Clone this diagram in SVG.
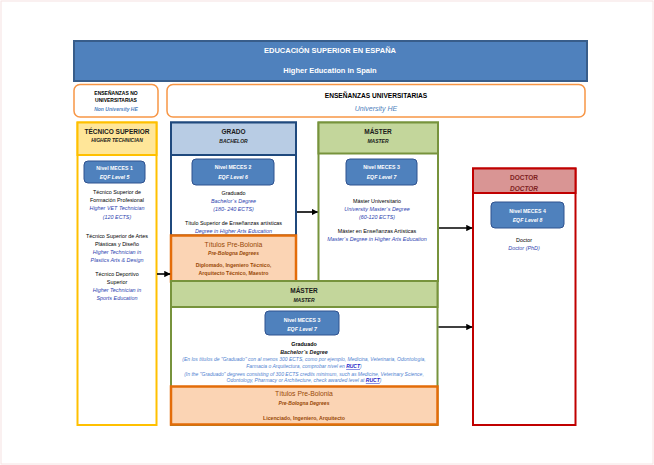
<svg xmlns="http://www.w3.org/2000/svg" width="654" height="465" viewBox="0 0 654 465">
<defs>
<marker id="ah" viewBox="0 0 10 10" refX="9" refY="5" markerWidth="4" markerHeight="4" orient="auto" markerUnits="strokeWidth">
<path d="M0,0 L10,5 L0,10 z" fill="#000"/>
</marker>
<style>
text{font-family:"Liberation Sans",Arial,sans-serif;text-anchor:middle;}
.t{fill:#ffffff;font-weight:bold;font-size:7.5px;}
.hd{font-weight:bold;font-size:6.5px;fill:#1a1a1a;}
.hi{font-weight:bold;font-style:italic;font-size:5px;fill:#1a1a1a;}
.b{font-size:5.4px;fill:#000;}
.bl{font-size:5.4px;font-style:italic;fill:#2E3FB0;}
.lb{font-size:5px;font-style:italic;fill:#4F7FD0;}
.u{fill:#1a22c8;text-decoration:underline;font-weight:bold;}
.mc{fill:#4F81BD;stroke:#2F528F;stroke-width:1;}
.mt{fill:#fff;font-weight:bold;font-size:5.2px;}
.mi{fill:#fff;font-weight:bold;font-style:italic;font-size:5.2px;}
.pb{fill:#FBD4B4;stroke:#E36C09;stroke-width:2.5;}
.pt{fill:#984806;font-size:6.8px;}
.pi{fill:#984806;font-size:5px;font-weight:bold;font-style:italic;}
.pd{fill:#984806;font-size:5.2px;font-weight:bold;}
.conn{stroke:#000;stroke-width:1.6;fill:none;marker-end:url(#ah);}
</style>
</defs>
<rect x="1" y="1" width="652" height="463" fill="#fff" stroke="#F6E2E2" stroke-width="1"/>

<g id="title">
<rect x="74" y="41" width="513" height="40" fill="#4F81BD" stroke="#385D8A" stroke-width="2"/>
<text class="t" x="330" y="52.5">EDUCACIÓN SUPERIOR EN ESPAÑA</text>
<text class="t" x="330" y="72.5">Higher Education in Spain</text>
</g>

<g id="non-university">
<rect x="74" y="84.5" width="84" height="32.5" rx="6" fill="#fff" stroke="#F79646" stroke-width="1.5"/>
<text x="116" y="95" style="font-size:5px;font-weight:bold;fill:#000">ENSEÑANZAS NO</text>
<text x="116" y="102" style="font-size:5px;font-weight:bold;fill:#000">UNIVERSITARIAS</text>
<text x="116" y="110.5" style="font-size:5px;font-weight:bold;font-style:italic;fill:#4F81BD">Non University HE</text>
</g>

<g id="university">
<rect x="167" y="84.5" width="418" height="32.5" rx="6" fill="#fff" stroke="#F79646" stroke-width="1.5"/>
<text x="376" y="97.5" style="font-size:6.6px;font-weight:bold;fill:#000">ENSEÑANZAS UNIVERSITARIAS</text>
<text x="376" y="111" style="font-size:7px;font-style:italic;fill:#4F81BD">University HE</text>
</g>

<g id="tecnico">
<rect x="77.5" y="122.5" width="79" height="302.5" fill="#fff" stroke="#FFC000" stroke-width="2"/>
<rect x="77.5" y="122.5" width="79" height="32.5" fill="#FFE699" stroke="#FFC000" stroke-width="2"/>
<text class="hd" x="117" y="133.5">TÉCNICO SUPERIOR</text>
<text class="hi" x="117" y="142">HIGHER TECHNICIAN</text>
<rect class="mc" x="84" y="161" width="61" height="22" rx="4"/>
<text class="mt" x="114.5" y="170">Nivel MECES 1</text>
<text class="mi" x="114.5" y="178.5">EQF Level 5</text>
<text class="b" x="117" y="194">Técnico Superior de</text>
<text class="b" x="117" y="202">Formación Profesional</text>
<text class="bl" x="117" y="210">Higher VET Technician</text>
<text class="bl" x="117" y="219">(120 ECTS)</text>
<text class="b" x="117" y="238">Técnico Superior de Artes</text>
<text class="b" x="117" y="246">Plásticas y Diseño</text>
<text class="bl" x="117" y="254">Higher Technician in</text>
<text class="bl" x="117" y="262">Plastics Arts &amp; Design</text>
<text class="b" x="117" y="276">Técnico Deportivo</text>
<text class="b" x="117" y="284">Superior</text>
<text class="bl" x="117" y="292">Higher Technician in</text>
<text class="bl" x="117" y="300">Sports Education</text>
</g>

<g id="grado">
<rect x="171" y="122.5" width="125" height="113" fill="#fff" stroke="#1F497D" stroke-width="2"/>
<rect x="171" y="122.5" width="125" height="32.5" fill="#B8CCE4" stroke="#1F497D" stroke-width="2"/>
<text class="hd" x="233.5" y="133.5">GRADO</text>
<text class="hi" x="233.5" y="143">BACHELOR</text>
<rect class="mc" x="192" y="159" width="82" height="26" rx="4"/>
<text class="mt" x="233" y="169">Nivel MECES 2</text>
<text class="mi" x="233" y="179">EQF Level 6</text>
<text class="b" x="233.5" y="195">Graduado</text>
<text class="bl" x="233.5" y="203">Bachelor´s Degree</text>
<text class="bl" x="233.5" y="211">(180- 240 ECTS)</text>
<text class="b" x="233.5" y="225">Título Superior de Enseñanzas artísticas</text>
<text class="bl" x="233.5" y="233">Degree in Higher Arts Education</text>
</g>

<g id="prebolonia-1">
<rect class="pb" x="171" y="235.5" width="125" height="46"/>
<text class="pt" x="233.5" y="246.5">Títulos Pre-Bolonia</text>
<text class="pi" x="233.5" y="255">Pre-Bologna Degrees</text>
<text class="pd" x="233.5" y="267">Diplomado, Ingeniero Técnico,</text>
<text class="pd" x="233.5" y="275">Arquitecto Técnico, Maestro</text>
</g>

<g id="master-top">
<rect x="318.5" y="122.5" width="119.5" height="158.5" fill="#fff" stroke="#77933C" stroke-width="2"/>
<rect x="318.5" y="122.5" width="119.5" height="31" fill="#C3D69B" stroke="#77933C" stroke-width="2"/>
<text class="hd" x="378" y="133.5">MÁSTER</text>
<text class="hi" x="378" y="143">MASTER</text>
<rect class="mc" x="346" y="159" width="71" height="26" rx="4"/>
<text class="mt" x="381.5" y="169">Nivel MECES 3</text>
<text class="mi" x="381.5" y="179">EQF Level 7</text>
<text class="b" x="377" y="203">Máster Universitario</text>
<text class="bl" x="377" y="211">University Master´s Degree</text>
<text class="bl" x="377" y="219">(60-120 ECTS)</text>
<text class="b" x="377" y="233">Máster en Enseñanzas  Artísticas</text>
<text class="bl" x="377" y="241">Master´s Degree in Higher Arts Education</text>
</g>

<g id="doctor">
<rect x="473" y="168.5" width="102.5" height="256.5" fill="#fff" stroke="#C00000" stroke-width="2"/>
<rect x="473" y="168.5" width="102.5" height="24.5" fill="#D99594" stroke="#C00000" stroke-width="2"/>
<text class="hd" x="524" y="179.5" style="fill:#7F1F1F">DOCTOR</text>
<text x="524" y="190.5" style="font-size:6.5px;font-style:italic;font-weight:bold;fill:#7F1F1F">DOCTOR</text>
<rect class="mc" x="491" y="202" width="73" height="26" rx="4"/>
<text class="mt" x="527.5" y="213">Nivel MECES 4</text>
<text class="mi" x="527.5" y="222">EQF Level 8</text>
<text class="b" x="524" y="242">Doctor</text>
<text class="bl" x="524" y="250">Doctor (PhD)</text>
</g>

<g id="master-bottom">
<rect x="171" y="281" width="266.5" height="144" fill="#fff" stroke="#77933C" stroke-width="2"/>
<rect x="171" y="281" width="266.5" height="26" fill="#C3D69B" stroke="#77933C" stroke-width="2"/>
<text class="hd" x="304" y="292.5">MÁSTER</text>
<text class="hi" x="304" y="301.5">MASTER</text>
<rect class="mc" x="265" y="311" width="74" height="24" rx="4"/>
<text class="mt" x="302" y="322">Nivel MECES 3</text>
<text class="mi" x="302" y="331">EQF Level 7</text>
<text class="b" x="304" y="346" style="font-weight:bold">Graduado</text>
<text x="304" y="353.5" style="font-size:5.4px;font-style:italic;font-weight:bold;fill:#1a1a1a">Bachelor´s Degree</text>
<text class="lb" x="304" y="361">(En los títulos de "Graduado" con al menos 300 ECTS, como por ejemplo, Medicina, Veterinaria, Odontología,</text>
<text class="lb" x="304" y="368">Farmacia o Arquitectura, comprobar nivel en <tspan class="u">RUCT</tspan>)</text>
<text class="lb" x="304" y="375.5">(In the "Graduado" degrees consisting of 300 ECTS credits minimum, such as Medicine, Veterinary Science,</text>
<text class="lb" x="304" y="382.3">Odontology, Pharmacy or Architecture, check awarded level at <tspan class="u">RUCT</tspan>)</text>
</g>

<g id="prebolonia-2">
<rect class="pb" x="171" y="386.5" width="266.5" height="38"/>
<text class="pt" x="304" y="396">Títulos Pre-Bolonia</text>
<text class="pi" x="304" y="404.5">Pre-Bologna Degrees</text>
<text class="pd" x="304" y="420">Licenciado, Ingeniero, Arquitecto</text>
</g>

<g id="connectors">
<line class="conn" x1="157" y1="274" x2="170" y2="274"/>
<line class="conn" x1="297" y1="212" x2="317.5" y2="212"/>
<line class="conn" x1="439" y1="228" x2="472" y2="228"/>
<line class="conn" x1="438.5" y1="327" x2="472" y2="327"/>
</g>
</svg>
